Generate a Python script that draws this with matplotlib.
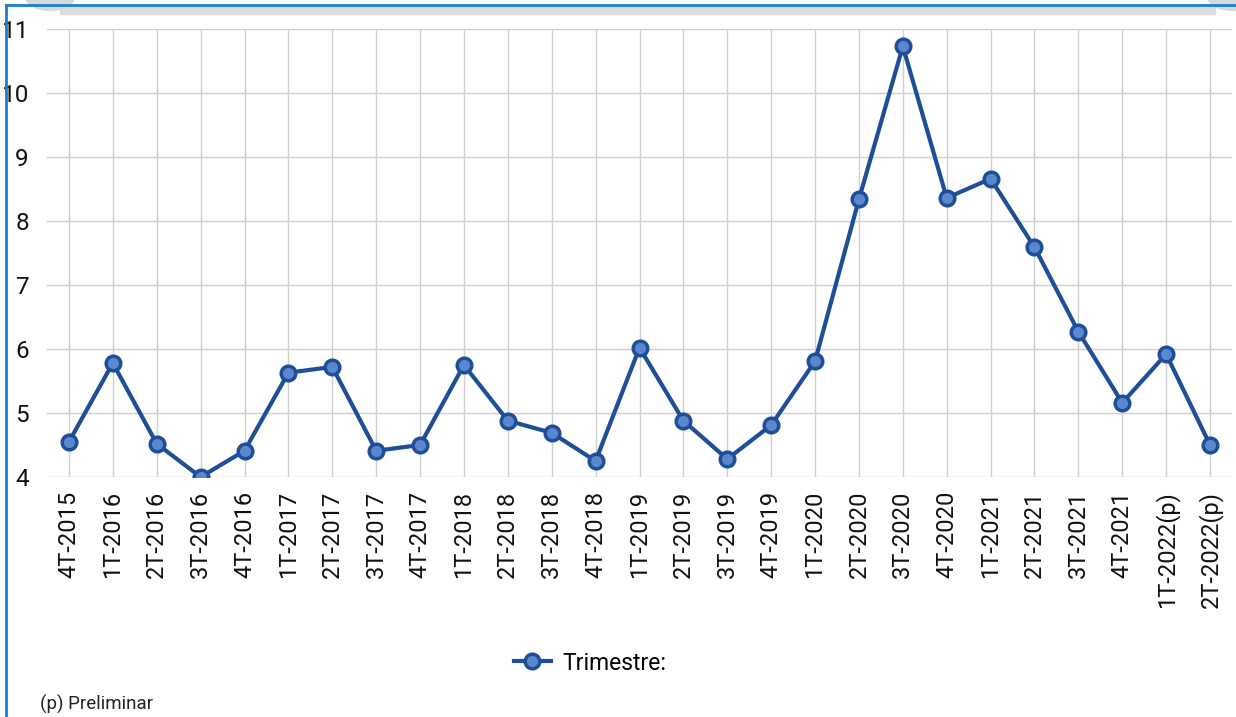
import matplotlib.pyplot as plt
from matplotlib.patches import Rectangle, Circle
from matplotlib.lines import Line2D

plt.rcParams['font.family'] = ['Roboto', 'DejaVu Sans']

# Datos trimestrales
trimestres = ['4T-2015', '1T-2016', '2T-2016', '3T-2016', '4T-2016',
              '1T-2017', '2T-2017', '3T-2017', '4T-2017',
              '1T-2018', '2T-2018', '3T-2018', '4T-2018',
              '1T-2019', '2T-2019', '3T-2019', '4T-2019',
              '1T-2020', '2T-2020', '3T-2020', '4T-2020',
              '1T-2021', '2T-2021', '3T-2021', '4T-2021',
              '1T-2022(p)', '2T-2022(p)']
valores = [4.55, 5.78, 4.52, 4.00, 4.41,
           5.63, 5.72, 4.41, 4.50,
           5.75, 4.88, 4.69, 4.25,
           6.02, 4.88, 4.28, 4.81,
           5.81, 8.34, 10.73, 8.36,
           8.66, 7.59, 6.27, 5.16,
           5.92, 4.50]
y_ticks = [4, 5, 6, 7, 8, 9, 10, 11]

azul = '#1f4e99'
azul_claro = '#5b87cf'

fig = plt.figure(figsize=(12.36, 7.17), dpi=100)
ax = fig.add_axes([47/1236, 1 - 477/717, (1232 - 47)/1236, (477 - 29)/717])

x = list(range(len(trimestres)))
ax.plot(x, valores, color=azul, lw=3, marker='o', markersize=10.5,
        markerfacecolor=azul_claro, markeredgecolor=azul, markeredgewidth=2.5,
        zorder=3)

ax.set_xlim(-0.5, len(trimestres) - 0.5)
ax.set_ylim(4, 11)
ax.set_xticks(x)
ax.set_xticklabels(trimestres, rotation=90, fontsize=17, color='#111111')
ax.set_yticks(y_ticks)
ax.set_yticklabels([str(v) for v in y_ticks], fontsize=17.5, color='#111111')
ax.tick_params(axis='both', length=0)
ax.tick_params(axis='y', pad=13)
ax.tick_params(axis='x', pad=10)
ax.grid(True, color='#cfcfcf', lw=1)
ax.set_axisbelow(True)
for s in ax.spines.values():
    s.set_visible(False)

# leyenda
h = Line2D([], [], color=azul, lw=3, marker='o', markersize=10.5,
           markerfacecolor=azul_claro, markeredgecolor=azul, markeredgewidth=2.5)
fig.legend([h], ['Trimestre:'], loc='center', bbox_to_anchor=(590/1236, 1 - 663/717),
           frameon=False, fontsize=16.5, handlelength=1.6, handletextpad=0.5)

fig.text(40/1236, 1 - 704/717, '(p) Preliminar', fontsize=13.5, va='center', color='#222222')

# marco azul y barra gris superior
fig.patches.append(Rectangle((60/1236, 1 - 14/717), (1215 - 60)/1236, 7/717,
                             transform=fig.transFigure, color='#dcdcdc', zorder=0))
fig.patches.append(Circle((50/1236, 1 + 4/717), 0.02, transform=fig.transFigure,
                          color='#d9d9d9', zorder=0))
fig.patches.append(Circle((1232/1236, 1 + 4/717), 0.02, transform=fig.transFigure,
                          color='#d9d9d9', zorder=0))
fig.add_artist(Line2D([6/1236, 1], [1 - 5/717, 1 - 5/717], transform=fig.transFigure,
                      color='#1a7fd4', lw=2))
fig.add_artist(Line2D([6/1236, 6/1236], [0, 1 - 5/717], transform=fig.transFigure,
                      color='#1a7fd4', lw=2))

fig.savefig('out.png', dpi=100)
